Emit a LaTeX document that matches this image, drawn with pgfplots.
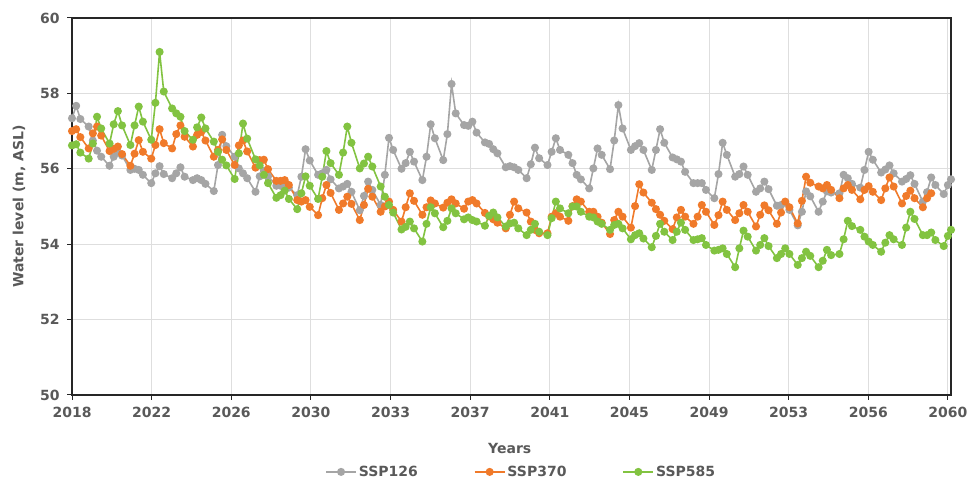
\documentclass[border=0pt]{standalone}
\usepackage{fontspec}
\setmainfont{DejaVu Sans}
\usepackage{pgfplots}
\usepackage{pgfplotstable}
\pgfplotsset{compat=1.18}
\definecolor{sgray}{HTML}{A5A5A5}
\definecolor{sorange}{HTML}{F07A2A}
\definecolor{sgreen}{HTML}{82C341}
\definecolor{txt}{HTML}{595959}
\pgfplotstableread{
x gray orange green
2018.0 57.34 57.00 56.62
2018.2 57.67 57.05 56.65
2018.4 57.32 56.84 56.43
2018.8 57.12 56.54 56.27
2019.0 56.75 56.94 56.67
2019.2 56.48 57.12 57.38
2019.4 56.32 56.88 57.07
2019.8 56.08 56.47 56.67
2020.0 56.32 56.53 57.18
2020.2 56.43 56.59 57.53
2020.4 56.35 56.39 57.15
2020.8 55.97 56.08 56.63
2021.0 56.00 56.40 57.15
2021.2 55.97 56.76 57.65
2021.4 55.84 56.45 57.25
2021.8 55.62 56.27 56.77
2022.0 55.88 56.63 57.75
2022.2 56.07 57.05 59.10
2022.4 55.86 56.68 58.05
2022.8 55.75 56.54 57.60
2023.0 55.88 56.92 57.47
2023.2 56.04 57.15 57.38
2023.4 55.79 56.85 57.00
2023.8 55.70 56.59 56.77
2024.0 55.75 56.90 57.10
2024.2 55.70 56.98 57.36
2024.4 55.60 56.75 57.07
2024.8 55.41 56.32 56.72
2025.0 56.10 56.50 56.45
2025.2 56.90 56.78 56.24
2025.4 56.60 56.50 56.09
2025.8 56.32 56.10 55.73
2026.0 56.01 56.62 56.41
2026.2 55.88 56.75 57.20
2026.4 55.75 56.46 56.80
2026.8 55.39 56.03 56.25
2027.0 55.80 56.23 56.09
2027.2 55.95 56.24 55.84
2027.4 55.80 55.99 55.62
2027.8 55.55 55.68 55.23
2028.0 55.55 55.68 55.30
2028.2 55.60 55.70 55.42
2028.4 55.50 55.57 55.20
2028.8 55.30 55.17 54.93
2029.0 55.79 55.13 55.35
2029.2 56.52 55.17 55.80
2029.4 56.22 54.99 55.55
2029.8 55.84 54.77 55.20
2030.0 55.88 55.22 55.79
2030.2 55.97 55.57 56.47
2030.4 55.72 55.36 56.15
2030.8 55.48 54.91 55.84
2031.0 55.53 55.08 56.43
2031.2 55.60 55.26 57.12
2031.4 55.39 55.07 56.69
2031.8 54.90 54.64 56.01
2032.0 55.28 55.04 56.14
2032.2 55.66 55.47 56.32
2032.4 55.44 55.26 56.06
2032.8 55.04 54.86 55.53
2033.0 55.84 55.00 55.26
2033.2 56.82 55.13 55.04
2033.4 56.50 54.91 54.84
2033.8 56.00 54.60 54.39
2034.0 56.15 54.98 54.46
2034.2 56.45 55.35 54.60
2034.4 56.19 55.15 54.42
2034.8 55.70 54.78 54.07
2035.0 56.32 54.98 54.54
2035.2 57.18 55.16 54.98
2035.4 56.81 55.08 54.82
2035.8 56.23 54.97 54.45
2036.0 56.92 55.10 54.62
2036.2 58.25 55.19 54.95
2036.4 57.47 55.08 54.82
2036.8 57.16 54.94 54.66
2037.0 57.14 55.13 54.71
2037.2 57.25 55.17 54.64
2037.4 56.96 55.08 54.60
2037.8 56.70 54.83 54.49
2038.0 56.66 54.74 54.75
2038.2 56.52 54.66 54.84
2038.4 56.41 54.57 54.71
2038.8 56.04 54.42 54.47
2039.0 56.07 54.78 54.55
2039.2 56.04 55.13 54.57
2039.4 55.97 54.95 54.42
2039.8 55.75 54.84 54.24
2040.0 56.12 54.60 54.38
2040.2 56.56 54.38 54.54
2040.4 56.28 54.29 54.33
2040.8 56.10 54.29 54.24
2041.0 56.45 54.73 54.69
2041.2 56.81 54.82 55.13
2041.4 56.50 54.73 54.95
2041.8 56.37 54.62 54.82
2042.0 56.15 55.01 55.00
2042.2 55.84 55.19 55.00
2042.4 55.72 55.13 54.86
2042.8 55.48 54.86 54.73
2043.0 56.01 54.86 54.71
2043.2 56.54 54.73 54.60
2043.4 56.37 54.57 54.54
2043.8 55.99 54.27 54.38
2044.0 56.75 54.64 54.51
2044.2 57.69 54.86 54.54
2044.4 57.07 54.73 54.42
2044.8 56.50 54.44 54.13
2045.0 56.60 55.01 54.24
2045.2 56.68 55.59 54.29
2045.4 56.50 55.37 54.15
2045.8 55.97 55.10 53.92
2046.0 56.50 54.93 54.22
2046.2 57.05 54.78 54.54
2046.4 56.69 54.62 54.33
2046.8 56.30 54.40 54.11
2047.0 56.25 54.71 54.33
2047.2 56.19 54.91 54.57
2047.4 55.92 54.73 54.38
2047.8 55.62 54.54 54.11
2048.0 55.62 54.73 54.13
2048.2 55.62 55.04 54.16
2048.4 55.44 54.86 53.98
2048.8 55.22 54.51 53.83
2049.0 55.86 54.77 53.85
2049.2 56.69 55.13 53.89
2049.4 56.37 54.91 53.74
2049.8 55.79 54.64 53.39
2050.0 55.86 54.82 53.89
2050.2 56.06 55.04 54.36
2050.4 55.84 54.86 54.20
2050.8 55.39 54.47 53.83
2051.0 55.48 54.78 53.98
2051.2 55.66 55.03 54.16
2051.4 55.46 54.90 53.95
2051.8 55.02 54.54 53.63
2052.0 55.04 54.84 53.74
2052.2 55.10 55.13 53.89
2052.4 54.91 54.98 53.74
2052.8 54.50 54.55 53.45
2053.0 54.86 55.15 53.63
2053.2 55.40 55.79 53.80
2053.4 55.27 55.63 53.69
2053.8 54.86 55.53 53.39
2054.0 55.13 55.48 53.56
2054.2 55.40 55.57 53.85
2054.4 55.37 55.44 53.71
2054.8 55.35 55.22 53.74
2055.0 55.84 55.48 54.13
2055.2 55.75 55.57 54.62
2055.4 55.60 55.44 54.48
2055.8 55.50 55.19 54.38
2056.0 55.97 55.44 54.20
2056.2 56.45 55.54 54.07
2056.4 56.24 55.39 53.98
2056.8 55.90 55.17 53.80
2057.0 55.98 55.48 54.04
2057.2 56.09 55.77 54.24
2057.4 55.88 55.53 54.13
2057.8 55.66 55.08 53.98
2058.0 55.73 55.28 54.44
2058.2 55.83 55.42 54.86
2058.4 55.60 55.22 54.67
2058.8 55.13 54.98 54.24
2059.0 55.38 55.22 54.24
2059.2 55.77 55.35 54.31
2059.4 55.57 nan 54.11
2059.8 55.33 nan 53.95
2060.0 55.57 nan 54.22
2060.15 55.72 nan 54.38
}\datatable
\begin{document}
\begin{tikzpicture}[x=1bp,y=1bp]
\path[use as bounding box] (0,0) rectangle (968,482);
\begin{axis}[
  at={(72bp,87bp)}, anchor=south west,
  scale only axis, width=879bp, height=377bp,
  xmin=2018, xmax=2060.15, ymin=50, ymax=60,
  xtick={2018,2021.818,2025.636,2029.455,2033.273,2037.091,2040.909,2044.727,2048.545,2052.364,2056.182,2060},
  xticklabels={2018,2022,2026,2030,2033,2037,2041,2045,2049,2053,2056,2060},
  ytick={50,52,54,56,58,60},
  xtick pos=bottom, ytick pos=left,
  tick align=outside, major tick length=5bp,
  tick style={color=black!85, line width=1bp},
  grid=major,
  major grid style={color=black!13, line width=1bp},
  axis line style={color=black!85, line width=1.2bp},
  /pgf/number format/assume math mode=true,
  ticklabel style={font=\fontsize{14bp}{16bp}\selectfont\bfseries, text=txt},
  xticklabel style={yshift=-4bp},
  yticklabel style={xshift=-4bp},
  xlabel={Years}, ylabel={Water level (m, ASL)},
  label style={font=\fontsize{14bp}{16bp}\selectfont\bfseries, text=txt},
  xlabel style={at={(axis description cs:0.498,-0.1406)}, anchor=center},
  ylabel style={at={(axis description cs:-0.0603,0.5)}, anchor=center},
  legend columns=3,
  legend style={at={(axis description cs:0.511,-0.204)}, anchor=center, draw=none, fill=none,
    font=\fontsize{14bp}{16bp}\selectfont\bfseries, text=txt,
    /tikz/every even column/.append style={column sep=54bp}},
  legend image code/.code={\draw[mark repeat=2,mark phase=2] plot coordinates {(0bp,0bp) (15bp,0bp) (30bp,0bp)};},
  every axis plot/.append style={line width=1.6bp, mark=*, mark size=3.2bp},
  unbounded coords=jump,
]
\addplot[color=sgray, mark options={fill=sgray, draw=sgray}] table[x=x, y=gray] {\datatable};
\addlegendentry{SSP126}
\addplot[color=sorange, mark options={fill=sorange, draw=sorange}] table[x=x, y=orange] {\datatable};
\addlegendentry{SSP370}
\addplot[color=sgreen, mark options={fill=sgreen, draw=sgreen}] table[x=x, y=green] {\datatable};
\addlegendentry{SSP585}
\end{axis}
\end{tikzpicture}
\end{document}
